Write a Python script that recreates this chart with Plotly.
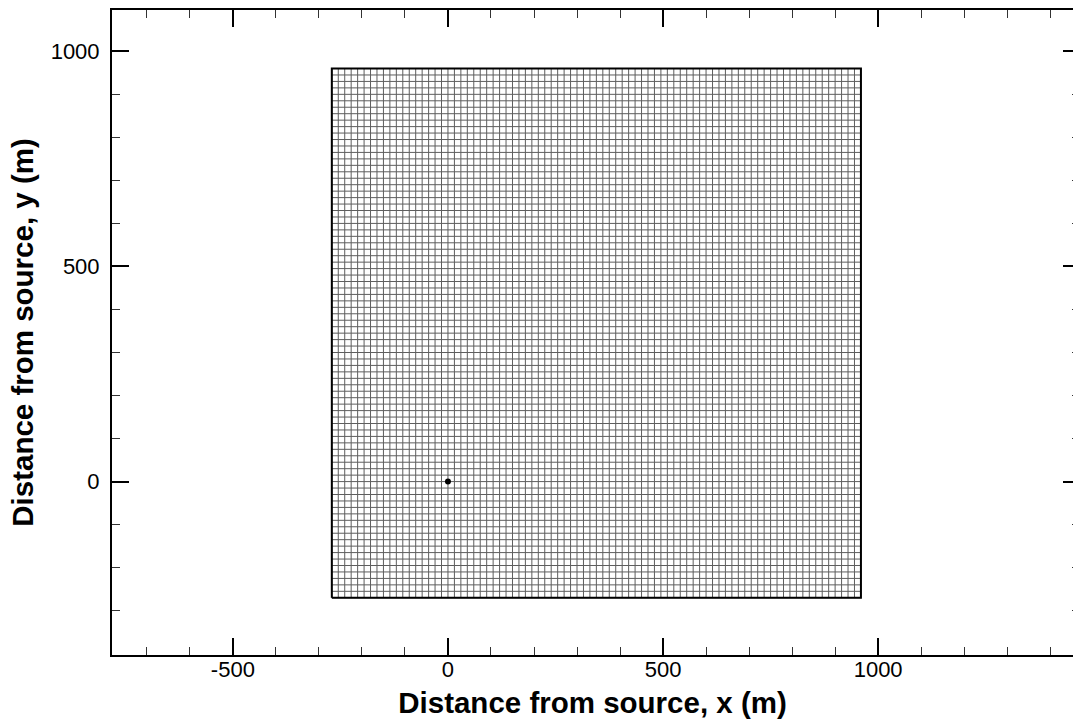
import numpy as np
import plotly.graph_objects as go

# Receptor grid (m)
grid_min = -270
grid_max = 960
grid_step = 15
grid_coords = list(np.arange(grid_min, grid_max + 1, grid_step))

# Source location
source_x = [0]
source_y = [0]

# Axis ranges and ticks
x_range = [-781, 1453]
y_range = [-403, 1096]
x_ticks = [-500, 0, 500, 1000]
x_labels = ["-500", "0", "500", "1000"]
y_ticks = [0, 500, 1000]
y_labels = ["0", "500", "1000"]

gx, gy = [], []
for c in grid_coords:
    gx += [c, c, None]
    gy += [grid_min, grid_max, None]
for c in grid_coords:
    gx += [grid_min, grid_max, None]
    gy += [c, c, None]

fig = go.Figure()
fig.add_trace(go.Scatter(x=gx, y=gy, mode="lines",
                         line=dict(color="#5e5e5e", width=1),
                         hoverinfo="skip", showlegend=False))
fig.add_trace(go.Scatter(x=[grid_min, grid_max, grid_max, grid_min, grid_min],
                         y=[grid_min, grid_min, grid_max, grid_max, grid_min],
                         mode="lines", line=dict(color="black", width=2),
                         hoverinfo="skip", showlegend=False))
fig.add_trace(go.Scatter(x=source_x, y=source_y, mode="markers",
                         marker=dict(color="black", size=6),
                         showlegend=False))
# invisible trace for the mirrored axes
fig.add_trace(go.Scatter(x=[0], y=[0], xaxis="x2", yaxis="y2", mode="markers",
                         marker=dict(opacity=0), hoverinfo="skip", showlegend=False))

font = dict(family="Arial, Liberation Sans, sans-serif", size=22, color="black")
x_minor = list(range(-700, 1500, 100))
y_minor = list(range(-300, 1100, 100))

fig.update_layout(
    width=1073, height=719,
    margin=dict(l=112, r=0, t=10, b=64),
    paper_bgcolor="white", plot_bgcolor="white",
    font=font,
    xaxis=dict(range=x_range, tickvals=x_ticks, ticktext=x_labels,
               ticks="inside", ticklen=17,
               tickwidth=2, tickcolor="black", showline=True, linewidth=2,
               linecolor="black", showgrid=False, zeroline=False,
               automargin=False, ticklabelstandoff=-6,
               minor=dict(tickvals=x_minor, ticklen=8,
                          tickwidth=1, tickcolor="#333", ticks="inside"),
               title=dict(text="<b>Distance from source, x (m)</b>",
                          font=dict(size=29.5), standoff=11),
               tickfont=dict(size=22)),
    yaxis=dict(range=y_range, tickvals=y_ticks, ticktext=y_labels,
               ticks="inside", ticklen=17,
               tickwidth=2, tickcolor="black", showline=True, linewidth=2,
               linecolor="black", showgrid=False, zeroline=False,
               automargin=False, ticklabelstandoff=6,
               minor=dict(tickvals=y_minor, ticklen=8,
                          tickwidth=1, tickcolor="#333", ticks="inside"),
               title=dict(text="<b>Distance from source, y (m)</b>",
                          font=dict(size=29.5), standoff=8),
               tickfont=dict(size=22)),
    xaxis2=dict(range=x_range, overlaying="x", side="top", tickvals=x_ticks,
                ticks="inside", ticklen=17, tickwidth=2, tickcolor="black",
                showline=True, linewidth=2, linecolor="black",
                showticklabels=False, showgrid=False, zeroline=False,
                automargin=False,
                minor=dict(tickvals=x_minor, ticklen=8,
                           tickwidth=1, tickcolor="#333", ticks="inside")),
    yaxis2=dict(range=y_range, overlaying="y", side="right", tickvals=y_ticks,
                ticks="inside", ticklen=10, tickwidth=2, tickcolor="black",
                showline=False, showticklabels=False, showgrid=False,
                zeroline=False, automargin=False,
                minor=dict(tickvals=y_minor, ticklen=1,
                           tickwidth=1, tickcolor="#333", ticks="inside")),
)

fig.write_html(
    "out.html",
    config={"displayModeBar": False},
    post_script="document.body.style.margin='0';document.body.style.overflow='hidden';",
)
